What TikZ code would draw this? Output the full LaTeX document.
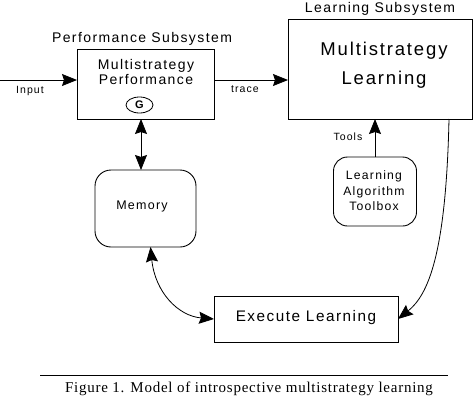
\documentclass[tikz,border=0pt]{standalone}
\usepackage{fontspec}
\usetikzlibrary{arrows.meta,shapes.geometric}
\newfontfamily\dfont[LetterSpace=10]{Liberation Sans}
\newfontfamily\cfont[LetterSpace=5]{Liberation Serif}
\begin{document}
\begin{tikzpicture}[x=1pt,y=-1pt,
  every node/.style={inner sep=0pt,outer sep=0pt},
  box/.style={draw,line width=0.9pt,rectangle},
  rbox/.style={draw,line width=0.9pt,rectangle,rounded corners=16pt},
  lbl/.style={font=\dfont\fontsize{10.5}{12}\selectfont},
  ttl/.style={font=\dfont\fontsize{14}{16}\selectfont},
  arr/.style={line width=0.8pt,-{Stealth[length=15pt,width=12pt,inset=2pt]}},
  darr/.style={line width=0.8pt,{Stealth[length=15pt,width=12pt,inset=2pt]}-{Stealth[length=15pt,width=12pt,inset=2pt]}}]
\useasboundingbox (0,0) rectangle (474,402);
% boxes
\node[box,minimum width=137pt,minimum height=70pt] (perf) at (145.5,84) {};
\node[align=center,font=\dfont\fontsize{14}{15}\selectfont] (perftxt) at (146,72) {Multistrategy\\Performance};
\node[draw,ellipse,line width=0.8pt,minimum width=27pt,minimum height=16pt,font=\dfont\bfseries\fontsize{11}{12}\selectfont] (g) at (139.5,105) {G};
\node[box,minimum width=184pt,minimum height=100pt] (learn) at (380,69) {};
\node[align=center,font=\dfont\fontsize{18.5}{29}\selectfont] (learntxt) at (384,65) {Multistrategy\\Learning};
\node[rbox,minimum width=101pt,minimum height=77pt] (mem) at (145.5,208.5) {};
\node[font=\dfont\fontsize{12.5}{14}\selectfont] (memtxt) at (142,206) {Memory};
\node[rbox,minimum width=83pt,minimum height=69pt,rounded corners=14pt] (tool) at (375,191.5) {};
\node[align=center,font=\dfont\fontsize{12.2}{15.5}\selectfont] (tooltxt) at (374,191) {Learning\\Algorithm\\Toolbox};
\node[box,minimum width=184pt,minimum height=46pt] (exec) at (306,319) {};
\node[font=\dfont\fontsize{15.3}{17}\selectfont] (exectxt) at (306,318) {Execute Learning};
% titles and labels
\node[ttl] (perft) at (142,39) {Performance Subsystem};
\node[ttl] (learnt) at (380,9) {Learning Subsystem};
\node[lbl] (inlbl) at (30,91) {Input};
\node[lbl] (trlbl) at (245,89) {trace};
\node[lbl] (tllbl) at (348,137) {Tools};
% connectors
\coordinate (inp) at (0,80);
\draw[arr] (inp) -- (inp -| perf.west);
\draw[arr] (perf.east |- 0,80) -- (learn.west |- 0,80);
\draw[darr] ([xshift=-4.5pt]perf.south) -- ([xshift=-4.5pt]mem.north);
\draw[arr] (tool.north) -- (tool.north |- learn.south);
\draw[arr] (learn.south -| 449,0) .. controls (446,255) and (428,295) .. (exec.east);
\draw[darr] ([xshift=5pt]mem.south) .. controls (155,292) and (178,316) .. (exec.west);
% caption
\draw[line width=0.8pt] (40,375) -- (448,375);
\node[font=\cfont\fontsize{15}{17}\selectfont] (cap) at (249,389) {Figure 1. Model of introspective multistrategy learning};
\end{tikzpicture}
\end{document}
